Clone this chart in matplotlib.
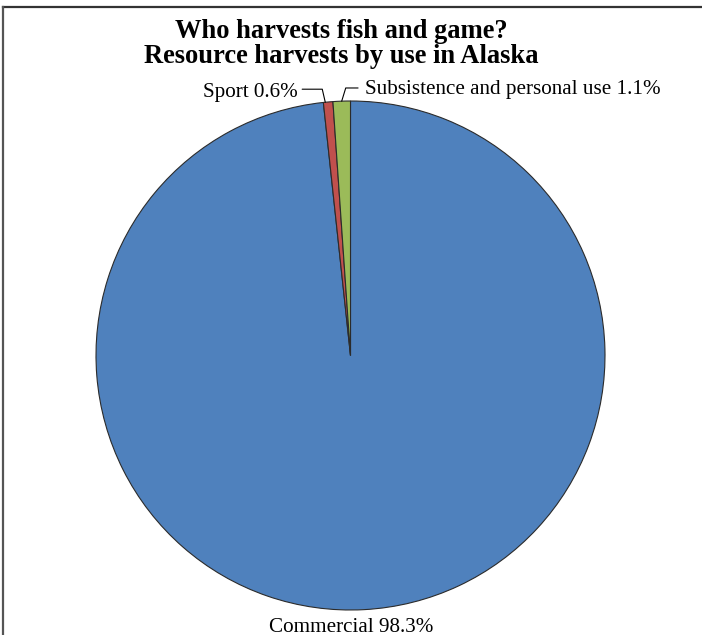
import matplotlib.pyplot as plt
import numpy as np

# Harvest shares by use (percent)
labels = ["Commercial", "Sport", "Subsistence and personal use"]
shares = [98.3, 0.6, 1.1]
colors = ["#4F81BD", "#C0504D", "#9BBB59"]

W, H = 702, 635
fig = plt.figure(figsize=(W / 100, H / 100), dpi=100)
ax = fig.add_axes([0, 0, 1, 1])

# pie in pixel-like data coords (y up)
cx, cy, r = 350.5, H - 355.5, 254.5
wedges, _ = ax.pie(shares, colors=colors, startangle=90, counterclock=False,
                   center=(cx, cy), radius=r,
                   wedgeprops=dict(edgecolor="#2b2b2b", linewidth=0.8))
ax.set_xlim(0, W)
ax.set_ylim(0, H)
ax.set_aspect("equal")
ax.axis("off")

serif = "Liberation Serif"

ax.text(341, H - 44, "Who harvests fish and game?\nResource harvests by use in Alaska",
        ha="center", va="center", fontsize=19.1, fontweight="bold",
        family=serif, linespacing=1.05)

def edge_point(w, frac):
    a = np.deg2rad(w.theta1 + (w.theta2 - w.theta1) * frac)
    return cx + r * np.cos(a), cy + r * np.sin(a)

# Commercial label below pie
ax.text(351, H - 627, f"{labels[0]} {shares[0]}%", ha="center", va="center",
        fontsize=15.2, family=serif)

# Sport leader
ax.annotate(f"{labels[1]} {shares[1]}%", xy=edge_point(wedges[1], 0.8),
            xytext=(298, H - 93), ha="right", va="center", fontsize=15.2, family=serif,
            arrowprops=dict(arrowstyle="-", color="black", lw=0.8, shrinkA=1, shrinkB=0,
                            relpos=(1, 0.7),
                            connectionstyle="angle,angleA=0,angleB=103,rad=0"))

# Subsistence leader
ax.annotate(f"{labels[2]} {shares[2]}%", xy=edge_point(wedges[2], 0.5),
            xytext=(365, H - 89.5), ha="left", va="center", fontsize=15.2, family=serif,
            arrowprops=dict(arrowstyle="-", color="black", lw=0.8, shrinkA=3, shrinkB=0,
                            relpos=(0, 0.58),
                            connectionstyle="angle,angleA=180,angleB=73,rad=0"))

# frame lines (top and left)
fig.add_artist(plt.Line2D([2.5 / W, 1], [1 - 6.5 / H, 1 - 6.5 / H], color="#333333", lw=1.6))
fig.add_artist(plt.Line2D([2.5 / W, 2.5 / W], [0, 1 - 6.5 / H], color="#555555", lw=1.6))

fig.savefig("out.png", dpi=100)
